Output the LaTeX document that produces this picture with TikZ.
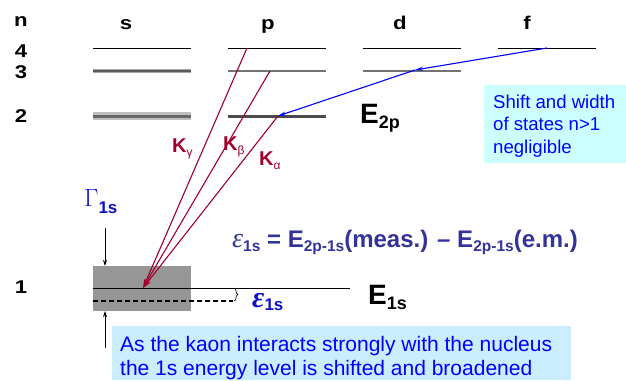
\documentclass[tikz,border=0pt]{standalone}
\usepackage{graphicx}
\usepackage{fontspec}
\setmainfont{Liberation Sans}
\newfontfamily\grserif{Liberation Serif}
\usetikzlibrary{arrows.meta}
\definecolor{kred}{HTML}{A0002D}
\definecolor{eqblue}{HTML}{333399}
\definecolor{lblue}{HTML}{1010C8}
\definecolor{boxcyan}{HTML}{CCFFFF}
\definecolor{boxblue}{HTML}{CCECFF}
\definecolor{widthgray}{HTML}{969696}
\newcommand\widelbl[1]{\scalebox{1.2}[1]{#1}}
\newcommand\ksub[1]{\raisebox{-4pt}{\fontsize{12}{12}\selectfont\mdseries #1}}
\tikzset{
  lbl/.style={font=\fontsize{18.5}{20}\selectfont\bfseries, inner sep=0pt, anchor=base},
  lvl/.style={line width=1pt, black},
  klbl/.style={font=\fontsize{20}{22}\selectfont\bfseries, text=kred, inner sep=0pt, anchor=base west},
  ktrans/.style={kred, line width=1.1pt, -{Stealth[length=9pt,width=5pt]}},
  btrans/.style={blue, line width=1.1pt, -{Stealth[length=8pt,width=4pt]}},
  stxt/.style={font=\fontsize{18.6}{22}\selectfont, text=blue, inner sep=0pt, anchor=base west},
  btxt/.style={font=\fontsize{21}{24}\selectfont, text=blue, inner sep=0pt, anchor=base west},
  varr/.style={black, line width=1pt, -{Stealth[length=6pt,width=4pt]}},
}
\begin{document}
\begin{tikzpicture}[x=1pt,y=-1pt]
\useasboundingbox (0,0) rectangle (626,380);
% level labels
\node[lbl] (n) at (21,27) {\widelbl{n}};
\node[lbl] (n4) at (21,57) {\widelbl{4}};
\node[lbl] (n3) at (21,78) {\widelbl{3}};
\node[lbl] (n2) at (21,122) {\widelbl{2}};
\node[lbl] (n1) at (21,293) {\widelbl{1}};
\node[lbl] (ls) at (126,29) {\widelbl{s}};
\node[lbl] (lp) at (268,29) {\widelbl{p}};
\node[lbl] (ld) at (400,29) {\widelbl{d}};
\node[lbl] (lf) at (527,29) {\widelbl{f}};
% 1s width box
\fill[widthgray] (93,266) rectangle (191,311);
% levels
\draw[lvl] (93,48) -- (191,48);
\draw[lvl] (228,48) -- (326,48);
\draw[lvl] (363,48) -- (461,48);
\draw[lvl] (498,48) -- (596,48);
\draw[line width=4pt, gray!70] (93,71) -- (191,71);
\draw[line width=2.5pt, black!65] (93,71) -- (191,71);
\draw[line width=2pt, black!55] (228,71) -- (326,71);
\draw[line width=2pt, black!55] (363,71) -- (461,71);
\draw[line width=8pt, gray!50] (93,116) -- (191,116);
\draw[line width=3pt, black!60] (93,116) -- (191,116);
\draw[line width=3pt, black!70] (228,116) -- (326,116);
% 1s levels
\draw[lvl] (93,288) -- (350,288);
\draw[black, line width=1.5pt, dash pattern=on 5pt off 3pt] (93,301) -- (233,301);
\draw[black, line width=0.6pt] (234,288) .. controls (237,288) and (235,294) .. (238,294.5) .. controls (235,295) and (237,301) .. (234,301);
% coordinates
\coordinate (p4) at (247,48);
\coordinate (p3) at (270,71);
\coordinate (p2) at (278,116);
\coordinate (f4) at (547,48);
\coordinate (d3) at (415,70);
\coordinate (s1) at (143,288);
\coordinate (gtop) at (105,228);
\coordinate (gtopend) at (105,266);
\coordinate (gbot) at (105,348);
\coordinate (gbotend) at (105,311);
% transitions
\draw[ktrans] (p4) -- (s1);
\draw[ktrans] (p3) -- (s1);
\draw[ktrans] (p2) -- (s1);
\draw[btrans] (f4) -- (d3);
\draw[btrans] (d3) -- (p2);
\node[klbl] (kg) at (172,152) {K\ksub{γ}};
\node[klbl] (kb) at (223,150) {K\ksub{β}};
\node[klbl] (ka) at (259,165) {K\ksub{α}};
% energies
\node[inner sep=0pt, anchor=base west, font=\fontsize{28}{30}\selectfont\bfseries] (e2p) at (360,123) {E\raisebox{-5pt}{\fontsize{18}{20}\selectfont 2p}};
\node[inner sep=0pt, anchor=base west, font=\fontsize{28}{30}\selectfont\bfseries] (e1s) at (368,304) {E\raisebox{-5pt}{\fontsize{18}{20}\selectfont 1s}};
% Gamma
\node[inner sep=0pt, anchor=base west, text=lblue] (gam) at (84,206) {\fontsize{34}{36}\selectfont$\Gamma$\raisebox{-7pt}{\fontsize{17}{18}\selectfont\bfseries 1s}};
\draw[varr] (gtop) -- (gtopend);
\draw[varr] (gbot) -- (gbotend);
% epsilon
\node[inner sep=0pt, anchor=base west, text=lblue] (epsl) at (252,307) {{\grserif\bfseries\itshape\fontsize{30}{32}\selectfont ε}\raisebox{-3pt}{\fontsize{17}{18}\selectfont\bfseries 1s}};
% equation
\node[inner sep=0pt, anchor=base west, text=eqblue, font=\fontsize{24}{26}\selectfont\bfseries] (eq) at (232,247) {{\grserif\mdseries\itshape\fontsize{28}{28}\selectfont ε}\raisebox{-4pt}{\fontsize{15.5}{16}\selectfont 1s} = E\raisebox{-4pt}{\fontsize{15.5}{16}\selectfont 2p-1s}(meas.) – E\raisebox{-4pt}{\fontsize{15.5}{16}\selectfont 2p-1s}(e.m.)};
% boxes
\fill[boxcyan] (484,85) rectangle (626,163);
\node[stxt] (sw1) at (493,108) {Shift and width};
\node[stxt] (sw2) at (493,130) {of states n>1};
\node[stxt] (sw3) at (493,153) {negligible};
\fill[boxblue] (112,326) rectangle (571,380);
\node[btxt] (as1) at (120,351) {As the kaon interacts strongly with the nucleus};
\node[btxt] (as2) at (120,375) {the 1s energy level is shifted and broadened};
\end{tikzpicture}
\end{document}
